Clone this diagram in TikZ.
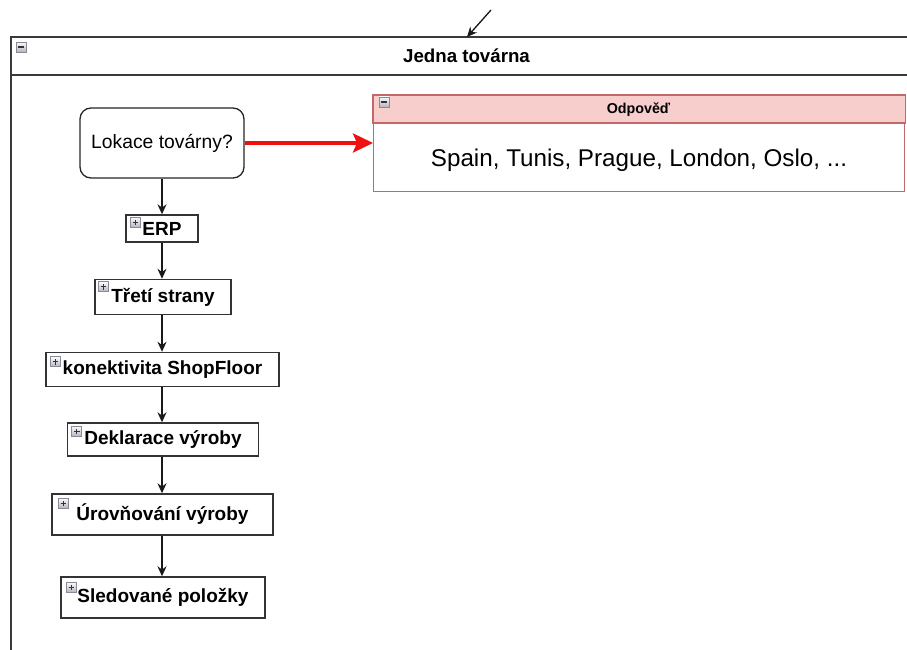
\documentclass[tikz,border=0pt]{standalone}
\usepackage{fontspec}
\setmainfont{Liberation Sans}
\usetikzlibrary{arrows.meta}

\definecolor{lane}{HTML}{3A3A3A}
\definecolor{answerfill}{HTML}{F8CECC}
\definecolor{answerline}{HTML}{C0686A}
\definecolor{iconfill}{HTML}{D4D6E0}
\definecolor{iconline}{HTML}{8A8A96}
\definecolor{hot}{HTML}{F01010}

\tikzset{
  flowarrow/.style={draw=black!90, line width=1.3pt, -{Stealth[length=10pt,width=9pt]}},
  hotarrow/.style={draw=hot, line width=3.6pt, -{Stealth[length=20pt,width=19pt,inset=4pt]}},
  stepbox/.style={draw=black!80, line width=1.4pt, fill=white, inner sep=0pt,
    font=\bfseries\fontsize{19}{22}\selectfont},
  askbox/.style={draw=black!85, line width=1.3pt, fill=white, rounded corners=11pt,
    inner sep=0pt, font=\fontsize{19.3}{22}\selectfont},
  iconbox/.style={draw=iconline, line width=0.7pt, top color=white!90!iconfill,
    bottom color=iconfill!85!black},
  plusicon/.pic={
    \path[iconbox] (0,0) rectangle (10,10);
    \draw[line width=1.3pt, black!80] (2.3,5) -- (7.7,5) (5,2.3) -- (5,7.7);
  },
  minusicon/.pic={
    \path[iconbox] (0,0) rectangle (10,10);
    \draw[line width=1.6pt, black!80] (2.3,5) -- (7.7,5);
  },
}

\begin{document}
\begin{tikzpicture}[x=1pt,y=-1pt]
\useasboundingbox (0,0) rectangle (907,650);
\clip (0,0) rectangle (907,650);

% outer swimlane "Jedna továrna" (runs on past the right and bottom edges)
\node (factory) [anchor=north west, minimum width=940pt, minimum height=660pt,
  inner sep=0pt] at (11,37) {};
\draw[lane, line width=1.3pt] (factory.south west) -- (factory.north west) -- (factory.north east);
\draw[lane, line width=1.3pt] ([yshift=-38pt]factory.north west) -- ([yshift=-38pt]factory.north east);
\node (factorytitle) [font=\bfseries\fontsize{18.7}{21}\selectfont] at (466.5,56) {Jedna továrna};
\pic at ([shift={(5,5)}]factory.north west) {minusicon};

% incoming edge at the top of the lane
\coordinate (incoming) at (491,10);
\coordinate (laneentry) at (467,37);
\draw[flowarrow] (incoming) -- (laneentry);

% answer container
\node (answer) [draw=answerline, line width=1.2pt, fill=white, anchor=north west,
  minimum width=531pt, minimum height=96pt, inner sep=0pt] at (373,95) {};
\path[fill=answerfill, draw=answerline, line width=1.2pt]
  (answer.north west) rectangle ([yshift=-28pt]answer.north east);
\node (answertitle) [font=\bfseries\fontsize{14.3}{17}\selectfont] at (638.5,110) {Odpověď};
\node (answertext) [font=\fontsize{24.2}{28}\selectfont] at (639,160) {Spain, Tunis, Prague, London, Oslo, ...};
\pic at ([shift={(6,2)}]answer.north west) {minusicon};

% question
\node (ask) [askbox, minimum width=164pt, minimum height=70pt] at (162,143) {Lokace továrny?};

% chain of collapsed groups
\node (erp)   [stepbox, minimum width=72pt,  minimum height=27pt] at (162,228.5) {ERP};
\node (third) [stepbox, minimum width=136pt, minimum height=35pt] at (163,297) {Třetí strany};
\node (shop)  [stepbox, minimum width=233pt, minimum height=34pt] at (162.5,369.5) {konektivita ShopFloor};
\node (decl)  [stepbox, minimum width=191pt, minimum height=33pt] at (163,439.5) {Deklarace výroby};
\node (level) [stepbox, minimum width=221pt, minimum height=41pt] at (162.5,514.5) {Úrovňování výroby};
\node (track) [stepbox, minimum width=204pt, minimum height=41pt] at (163,597.5) {Sledované položky};

\pic at ([shift={(5,3)}]erp.north west) {plusicon};
\pic at ([shift={(4,3)}]third.north west) {plusicon};
\pic at ([shift={(5,5)}]shop.north west) {plusicon};
\pic at ([shift={(5,4)}]decl.north west) {plusicon};
\pic at ([shift={(7,5)}]level.north west) {plusicon};
\pic at ([shift={(6,6)}]track.north west) {plusicon};

% connectors
\draw[flowarrow] (ask) -- (erp);
\draw[flowarrow] (erp) -- (erp |- third.north);
\draw[flowarrow] (erp |- third.south) -- (erp |- shop.north);
\draw[flowarrow] (erp |- shop.south) -- (erp |- decl.north);
\draw[flowarrow] (erp |- decl.south) -- (erp |- level.north);
\draw[flowarrow] (erp |- level.south) -- (erp |- track.north);
\draw[hotarrow] (ask) -- (answer.west |- ask);
\end{tikzpicture}
\end{document}
